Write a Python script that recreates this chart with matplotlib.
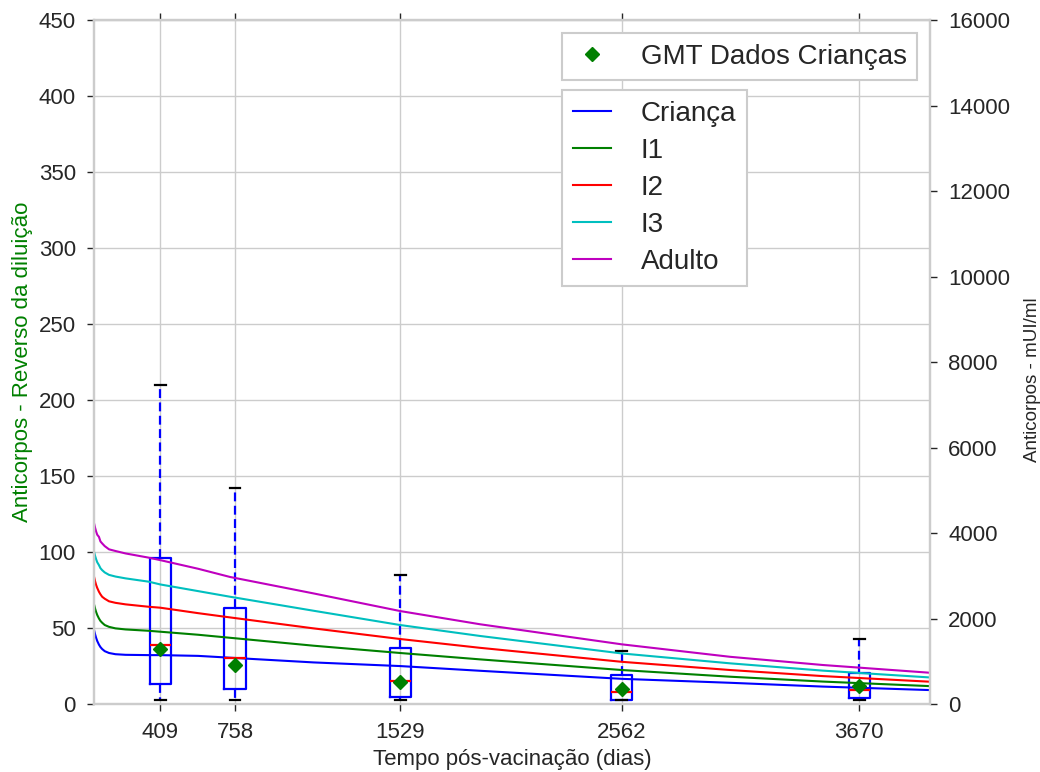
import matplotlib
matplotlib.use('Agg')
import matplotlib.pyplot as plt

# dias pos-vacinacao das coletas (criancas)
DIAS = [409, 758, 1529, 2562, 3670]
Q1 = [13.2, 10.0, 4.8, 3.0, 3.7]
MED = [39.0, 30.3, 15.0, 8.1, 9.0]
Q3 = [96.0, 63.0, 37.0, 18.9, 20.6]
WLO = [3.0, 3.0, 3.0, 3.0, 2.6]
WHI = [210.0, 142.0, 85.0, 34.9, 43.0]
GMT = [36.5, 26.0, 14.5, 9.8, 12.0]

# curvas do modelo
T = [100, 105, 110, 115, 123, 130, 138, 150, 170, 200, 247, 356, 409,
     586, 735, 1124, 1528, 1901, 2562, 3067, 3500, 4000]
CRIANCA = [48.7, 45.9, 43.5, 41.5, 39.1, 37.5, 36.2, 34.8, 33.6, 32.8, 32.4,
           32.2, 32.2, 31.7, 30.5, 27.4, 25.0, 21.9, 16.6, 14.0, 11.5, 9.2]
I1 = [65.6, 62.8, 60.5, 58.6, 56.3, 54.7, 53.5, 52.0, 50.8, 49.8, 49.1,
      48.2, 47.6, 45.6, 43.6, 38.4, 33.6, 29.4, 22.4, 18.0, 14.8, 11.8]
I2 = [83.8, 80.8, 78.3, 76.4, 73.9, 72.2, 70.6, 69.3, 67.6, 66.6, 65.6,
      64.0, 63.4, 59.8, 57.0, 49.8, 42.8, 37.0, 27.8, 22.4, 18.4, 14.7]
I3 = [100.2, 97.5, 95.2, 93.3, 91.4, 89.4, 88.1, 86.6, 85.0, 83.9, 82.7,
      80.5, 78.7, 74.3, 70.6, 61.4, 52.0, 44.8, 33.3, 26.8, 22.0, 17.5]
ADULTO = [119.0, 116.0, 113.4, 111.4, 110.0, 107.0, 105.7, 103.9, 101.8,
          100.7, 99.1, 96.3, 94.7, 89.0, 83.6, 72.8, 61.2, 52.5, 39.3, 31.1,
          25.7, 20.6]
CURVAS = [('Criança', CRIANCA, 'b'), ('I1', I1, 'g'), ('I2', I2, 'r'),
          ('I3', I3, 'c'), ('Adulto', ADULTO, 'm')]

INK, GRID = '#262626', '#CCCCCC'
plt.rcParams.update({'font.family': ['Liberation Sans', 'DejaVu Sans'],
                     'font.size': 16, 'text.color': INK,
                     'axes.labelcolor': INK, 'axes.edgecolor': GRID,
                     'axes.linewidth': 1.6, 'grid.color': GRID,
                     'grid.linewidth': 1.0,
                     'xtick.color': INK, 'ytick.color': INK,
                     'xtick.major.size': 5, 'ytick.major.size': 5,
                     'xtick.major.width': 1.0, 'ytick.major.width': 1.0,
                     'xtick.major.pad': 8, 'ytick.major.pad': 8,
                     'legend.fontsize': 20})

fig = plt.figure(figsize=(10.4, 7.72), dpi=100)
ax = fig.add_axes([0.0904, 0.088, 0.8038, 0.886])
ax.grid(True)
ax.set_axisbelow(True)

stats = [dict(med=m, q1=a, q3=b, whislo=lo, whishi=hi, fliers=[])
         for a, m, b, lo, hi in zip(Q1, MED, Q3, WLO, WHI)]
ax.bxp(stats, positions=DIAS, widths=100, showfliers=False, manage_ticks=False,
       boxprops=dict(color='b', lw=1.6),
       medianprops=dict(color='r', lw=1.6),
       whiskerprops=dict(color='b', ls=(0, (4, 2)), lw=1.6),
       capprops=dict(color='k', lw=1.6))

linhas = []
for nome, y, cor in CURVAS:
    ln, = ax.plot(T, y, color=cor, lw=1.5, label=nome)
    linhas.append(ln)
gmt, = ax.plot(DIAS, GMT, 'D', color='g', ms=7.5, zorder=5,
               label='GMT Dados Crianças')

ax.set_xlim(100, 4000)
ax.set_ylim(0, 450)
ax.set_xticks(DIAS)
ax.set_yticks(range(0, 451, 50))
ax.tick_params(axis='x', top=True, direction='out')
ax.set_xlabel('Tempo pós-vacinação (dias)', fontsize=16)
ax.set_ylabel('Anticorpos - Reverso da diluição', color='g', fontsize=16)

ax2 = ax.twinx()
ax2.set_ylim(0, 16000)
ax2.set_yticks(range(0, 16001, 2000))
ax2.grid(False)
ax2.set_ylabel('Anticorpos - mUI/ml', fontsize=13.5)
ax2.yaxis.set_label_coords(1.112, 0.474)

opts = dict(loc='upper left', borderaxespad=0, fancybox=False, framealpha=1,
            edgecolor=GRID, handlelength=1.4, handletextpad=1.05,
            borderpad=0.38)
leg1 = ax2.legend([gmt], [gmt.get_label()], bbox_to_anchor=(0.5598, 0.981),
                  numpoints=1, **opts)
leg1.get_frame().set_linewidth(1.5)
ax2.add_artist(leg1)
leg2 = ax2.legend(linhas, [l.get_label() for l in linhas],
                  bbox_to_anchor=(0.5598, 0.8977), labelspacing=0.40, **opts)
leg2.get_frame().set_linewidth(1.5)

fig.savefig('out.png', dpi=100)
